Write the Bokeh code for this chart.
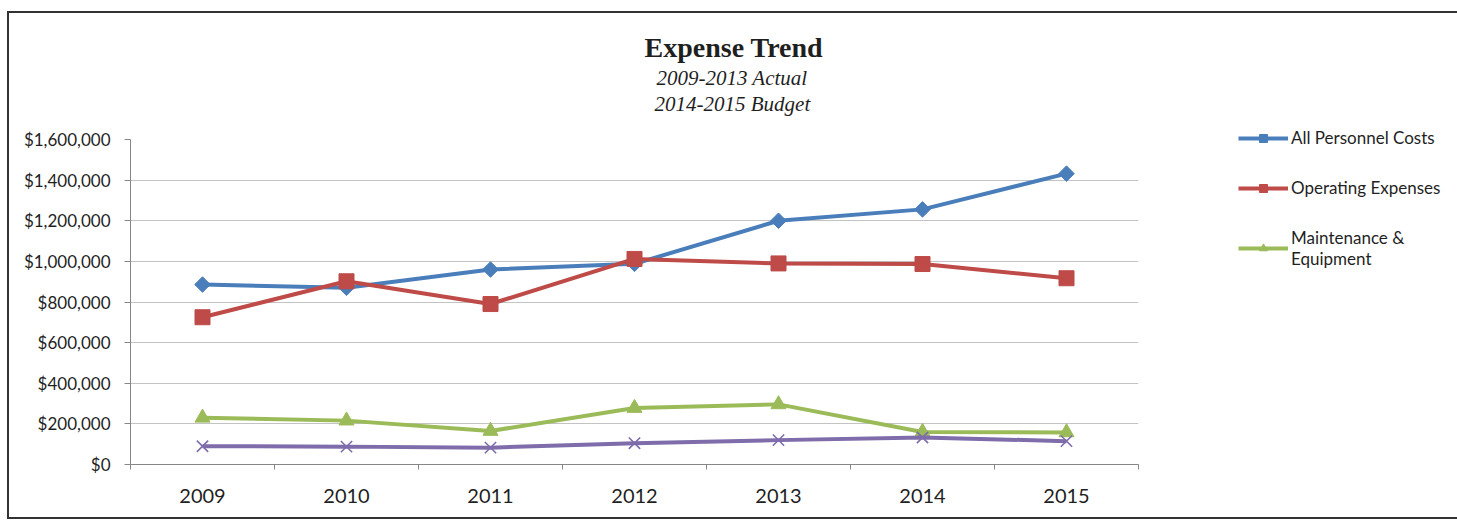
import math
from bokeh.plotting import figure
from bokeh.models import (Range1d, FixedTicker, NumeralTickFormatter,
                          Legend, LegendItem, Title, ColumnDataSource)
from bokeh.embed import file_html
from bokeh.resources import INLINE

years = ["2009", "2010", "2011", "2012", "2013", "2014", "2015"]
personnel = [886000, 870000, 960000, 988000, 1200000, 1256000, 1432000]
operating = [725000, 902000, 790000, 1012000, 990000, 987000, 917000]
maintenance = [230000, 216000, 165000, 278000, 296000, 160000, 158000]
other = [90000, 88000, 83000, 105000, 120000, 133000, 115000]
y_ticks = [0, 200000, 400000, 600000, 800000, 1000000, 1200000, 1400000, 1600000]

series_names = ["All Personnel Costs", "Operating Expenses", "Maintenance &\nEquipment"]
title_lines = ["Expense Trend", "2009-2013 Actual", "2014-2015 Budget"]

BLUE = "#4a7ebb"
RED = "#be4b48"
GREEN = "#9bbb59"
PURPLE = "#7e6cab"
AXIS = "#868686"
TXT = "#1f1f1f"

# category centres on a linear scale (each category occupies one unit)
xpos = [i + 0.5 for i in range(len(years))]
bounds = list(range(len(years) + 1))
src = ColumnDataSource(dict(x=xpos, year=years, personnel=personnel,
                            operating=operating, maintenance=maintenance, other=other))

p = figure(frame_width=1008, frame_height=325, title=None,
           x_range=Range1d(0, len(years)),
           y_range=Range1d(0, y_ticks[-1]),
           output_backend="svg", toolbar_location=None,
           min_border_left=121, min_border_right=313,
           min_border_top=126, min_border_bottom=53)
p.margin = (11, 0, 0, 7)
p.styles = {"border": "2px solid #333333"}
p.outline_line_color = None
p.background_fill_color = "white"
p.border_fill_color = "white"

# y axis
yt = FixedTicker(ticks=y_ticks)
p.yaxis.ticker = yt
p.yaxis.formatter = NumeralTickFormatter(format="$0,0")
p.yaxis.major_label_text_font = "Lato"
p.yaxis.major_label_text_font_size = "17px"
p.yaxis.major_label_text_color = TXT
p.yaxis.axis_line_color = AXIS
p.yaxis.major_tick_line_color = AXIS
p.yaxis.major_tick_in = 0
p.yaxis.major_tick_out = 6
p.yaxis.minor_tick_line_color = None
p.yaxis.major_label_standoff = 14
p.ygrid.ticker = yt
p.ygrid.grid_line_color = "#c3c3c3"
p.xgrid.grid_line_color = None

# x axis: labels at category centres, tick marks at category boundaries
xa = p.xaxis[0]
xa.ticker = FixedTicker(ticks=xpos, minor_ticks=bounds)
xa.major_label_overrides = {x: y for x, y in zip(xpos, years)}
xa.axis_line_color = AXIS
xa.major_tick_line_color = None
xa.minor_tick_line_color = AXIS
xa.minor_tick_in = 0
xa.minor_tick_out = 5
xa.major_label_text_font = "Lato"
xa.major_label_text_font_size = "20px"
xa.major_label_text_color = TXT
xa.major_label_standoff = 18

# series
l1 = p.line("x", "personnel", source=src, line_color=BLUE, line_width=4)
m1 = p.scatter("x", "personnel", source=src, marker="square", angle=math.pi / 4,
               size=11, color=BLUE)
l2 = p.line("x", "operating", source=src, line_color=RED, line_width=4)
m2 = p.scatter("x", "operating", source=src, marker="square", size=15, color=RED)
l3 = p.line("x", "maintenance", source=src, line_color=GREEN, line_width=4)
m3 = p.scatter("x", "maintenance", source=src, marker="triangle", size=15, color=GREEN)
l4 = p.line("x", "other", source=src, line_color=PURPLE, line_width=4)
m4 = p.scatter("x", "other", source=src, marker="x", size=16, line_color=PURPLE,
               line_width=1.6)

legend = Legend(items=[LegendItem(label=series_names[0], renderers=[l1, m1]),
                       LegendItem(label=series_names[1], renderers=[l2, m2]),
                       LegendItem(label=series_names[2], renderers=[l3, m3])],
                location=(100, 195), orientation="vertical",
                glyph_width=50, glyph_height=20, label_height=20,
                label_standoff=3, spacing=29, padding=0, margin=0,
                border_line_color=None, background_fill_alpha=0,
                label_text_font="Lato", label_text_font_size="17px",
                label_text_color=TXT)
p.add_layout(legend, "right")

# titles (added from nearest the plot outward); the trailing newline on the
# lowest subtitle line keeps a one-line gap between the titles and the plot
p.add_layout(Title(text=title_lines[2] + "\n", text_font="Liberation Serif",
                   text_font_style="italic", text_font_size="21px",
                   text_color=TXT, align="left", offset=524, standoff=0), "above")
p.add_layout(Title(text=title_lines[1], text_font="Liberation Serif",
                   text_font_style="italic", text_font_size="21px",
                   text_color=TXT, align="left", offset=526, standoff=0), "above")
p.add_layout(Title(text=title_lines[0], text_font="Liberation Serif",
                   text_font_style="bold", text_font_size="28px",
                   text_color=TXT, align="left", offset=514, standoff=1), "above")

open("out.html", "w").write(file_html(p, INLINE))
